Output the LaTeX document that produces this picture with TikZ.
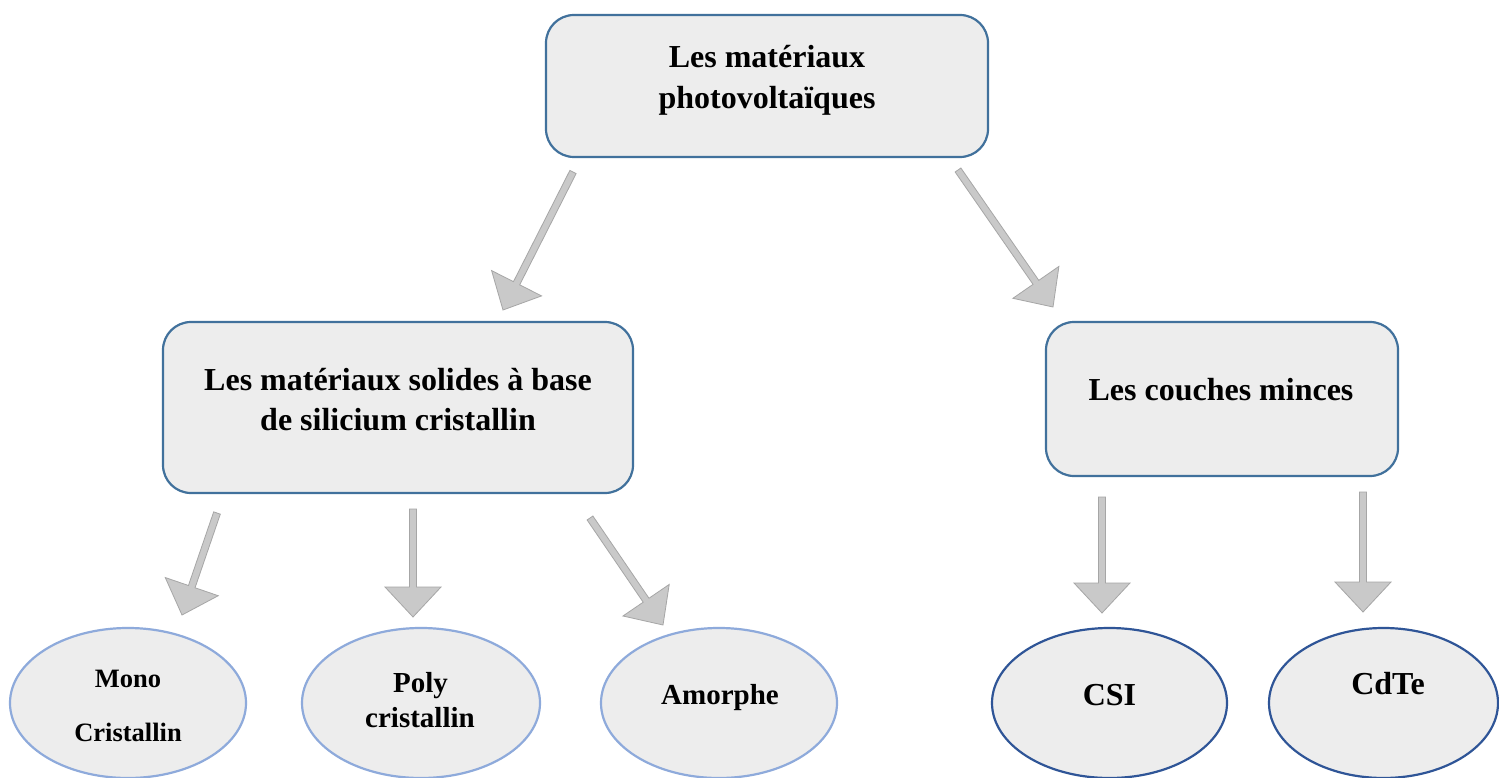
\documentclass[tikz,border=0pt]{standalone}
\usepackage{fontspec}
\setmainfont{Liberation Serif}
\usetikzlibrary{calc,shapes.geometric}

\definecolor{boxline}{HTML}{41719C}
\definecolor{boxfill}{HTML}{EDEDED}
\definecolor{lightline}{HTML}{8EAADB}
\definecolor{darkline}{HTML}{2F5597}
\definecolor{arrowfill}{HTML}{C9C9C9}
\definecolor{arrowline}{HTML}{A6A6A6}

% Block arrow from tail #1 to tip #2 (shaft 7pt wide, head 56pt wide, 30pt long)
\newcommand{\blockarrow}[2]{%
  \coordinate (hb) at ($(#2)!30pt!(#1)$);
  \draw[arrowshape]
    ($(#1)!3.5pt!90:(#2)$) -- ($(hb)!3.5pt!90:(#2)$) -- ($(hb)!28pt!90:(#2)$)
    -- (#2)
    -- ($(hb)!28pt!-90:(#2)$) -- ($(hb)!3.5pt!-90:(#2)$) -- ($(#1)!3.5pt!-90:(#2)$)
    -- cycle;}

\tikzset{
  mainbox/.style={rectangle, draw=boxline, fill=boxfill, line width=2.2pt,
    rounded corners=28pt, inner sep=0pt},
  lightoval/.style={ellipse, draw=lightline, fill=boxfill, line width=2.2pt,
    inner sep=0pt, minimum height=150pt},
  darkoval/.style={ellipse, draw=darkline, fill=boxfill, line width=2.2pt,
    inner sep=0pt, minimum height=150pt},
  txt/.style={anchor=base, inner sep=0pt, font=\bfseries\fontsize{#1}{#1}\selectfont},
  arrowshape/.style={fill=arrowfill, draw=arrowline, line width=0.8pt, line join=miter},
}

\begin{document}
\begin{tikzpicture}[x=1pt, y=-1pt]
  \fill[white] (0,0) rectangle (1499,778);
  \useasboundingbox (0,0) rectangle (1499,778);

  % boxes
  \node[mainbox, minimum width=442pt, minimum height=142pt] (top) at (767,86) {};
  \node[mainbox, minimum width=470pt, minimum height=171pt] (solid) at (398,407.5) {};
  \node[mainbox, minimum width=352pt, minimum height=154pt] (thin) at (1222,399) {};

  \node[txt=32] (topA) at (767,68) {Les matériaux};
  \node[txt=32] (topB) at (767,109) {photovoltaïques};
  \node[txt=32] (solidA) at (398,390) {Les matériaux solides à base};
  \node[txt=32] (solidB) at (398,430) {de silicium cristallin};
  \node[txt=32] (thinA) at (1221,400) {Les couches minces};

  % ovals
  \node[lightoval, minimum width=236pt] (mono) at (128,703) {};
  \node[lightoval, minimum width=238pt] (poly) at (421,703) {};
  \node[lightoval, minimum width=236pt] (amor) at (719,703) {};
  \node[darkoval, minimum width=235pt] (csi) at (1109.5,703) {};
  \node[darkoval, minimum width=229pt] (cdte) at (1383.5,703) {};

  \node[txt=26.5] (monoA) at (128,687) {Mono};
  \node[txt=26.5] (monoB) at (128,741) {Cristallin};
  \node[txt=29] (polyA) at (420.5,692) {Poly};
  \node[txt=29] (polyB) at (420,727) {cristallin};
  \node[txt=29] (amorA) at (720,704) {Amorphe};
  \node[txt=32] (csiA) at (1109.5,705) {CSI};
  \node[txt=32] (cdteA) at (1388,694) {CdTe};

  % arrow end points
  \coordinate (a1s) at (573,172);  \coordinate (a1e) at (503,310);
  \coordinate (a2s) at (958,170);  \coordinate (a2e) at (1053,307);
  \coordinate (a3s) at (217,513);  \coordinate (a3e) at (182,615);
  \coordinate (a4s) at (413,509);  \coordinate (a4e) at (413,617);
  \coordinate (a5s) at (590,518);  \coordinate (a5e) at (663,625);
  \coordinate (a6s) at (1102,497); \coordinate (a6e) at (1102,613);
  \coordinate (a7s) at (1363,492); \coordinate (a7e) at (1363,612);

  \blockarrow{a1s}{a1e}
  \blockarrow{a2s}{a2e}
  \blockarrow{a3s}{a3e}
  \blockarrow{a4s}{a4e}
  \blockarrow{a5s}{a5e}
  \blockarrow{a6s}{a6e}
  \blockarrow{a7s}{a7e}
\end{tikzpicture}
\end{document}
